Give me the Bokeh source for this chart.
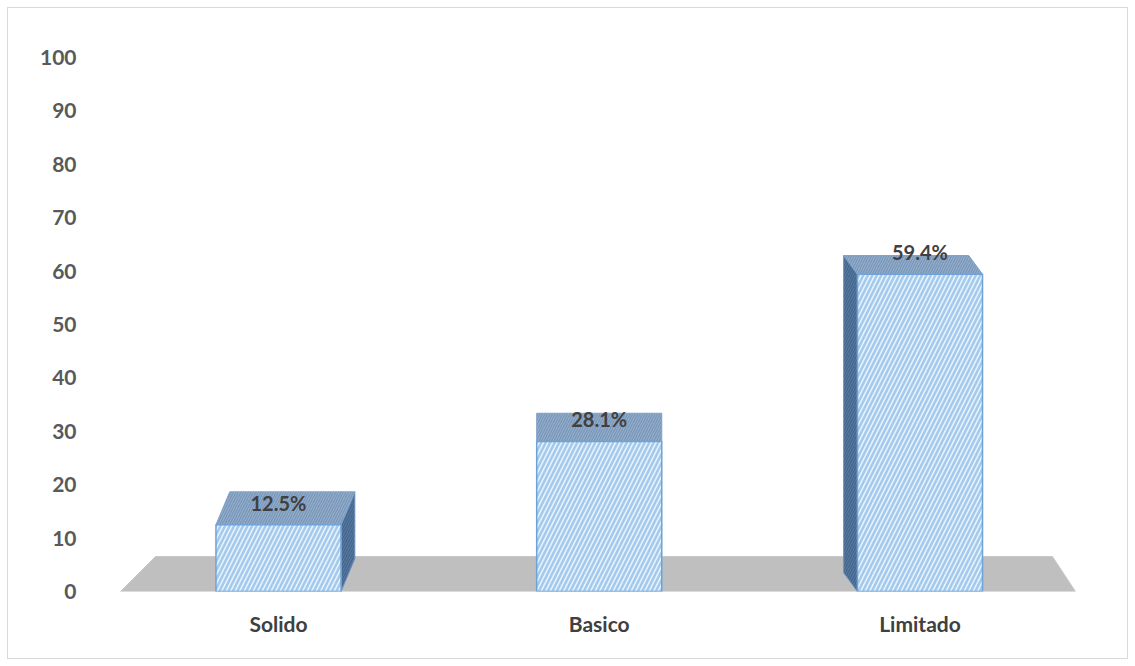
from bokeh.plotting import figure
from bokeh.layouts import column
from bokeh.models import Range1d, FixedTicker, ColumnDataSource
from bokeh.core.properties import value
from bokeh.embed import file_html
from bokeh.resources import INLINE

# ---- data ----
categories = ["Solido", "Basico", "Limitado"]
values = [12.5, 28.1, 59.4]
value_labels = ["12.5%", "28.1%", "59.4%"]
y_ticks = [0, 10, 20, 30, 40, 50, 60, 70, 80, 90, 100]

FONT = "Lato"
xs = list(range(len(categories)))
hw = 0.195  # half bar width (x units)

# figure sits inside a bordered box starting at page pixel (8, 8)
p = figure(width=1119, height=650, output_backend="svg", toolbar_location=None,
           x_range=Range1d(-0.6017, 2.594), y_range=Range1d(0, 100),
           min_border_left=77, min_border_right=17, min_border_top=49,
           min_border_bottom=67)
p.outline_line_color = None
p.xgrid.visible = False
p.ygrid.visible = False
p.background_fill_color = "white"
p.border_fill_color = "white"

# floor
p.patch(x=[-0.4926, 2.4848, 2.4131, -0.3835], y=[0, 0, 6.55, 6.55],
        fill_color="#bfbfbf", line_color="#c8c8c8", line_width=1)

# 3D pieces computed from data
top_xs, top_ys, side_xs, side_ys = [], [], [], []
for x, v in zip(xs, values):
    dx = -0.043 * (x - 1)
    dy = 6.87 - 0.0565 * v
    top_xs.append([x - hw, x + hw, x + hw + dx, x - hw + dx])
    top_ys.append([v, v, v + dy, v + dy])
    if dx != 0:
        ex = x + hw if dx > 0 else x - hw
        side_xs.append([ex, ex, ex + dx, ex + dx])
        side_ys.append([0, v, v + dy, dy])

p.patches(xs=side_xs, ys=side_ys, fill_color="#56789f", line_color="#6f93bd",
          line_width=1, hatch_pattern="/", hatch_color="#3e6088",
          hatch_scale=5, hatch_weight=1)
p.patches(xs=top_xs, ys=top_ys, fill_color="#93adca", line_color="#7fa3cc",
          line_width=1, hatch_pattern="/", hatch_color="#7896b9",
          hatch_scale=5, hatch_weight=1.2)

src = ColumnDataSource(dict(x=xs, top=values, lab=value_labels))
p.vbar(x="x", top="top", bottom=0, width=2 * hw, source=src,
       fill_color="#e6f2fc", line_color="#6fa2d6", line_width=1.5,
       hatch_pattern="/", hatch_color="#a3c9ec", hatch_scale=9, hatch_weight=2.5)

p.text(x="x", y="top", text="lab", source=src, y_offset=-22,
       text_align="center", text_baseline="middle",
       text_font=value(FONT), text_font_style="bold", text_font_size="20px",
       text_color="#404040")

# axes
p.yaxis.ticker = FixedTicker(ticks=y_ticks)
p.yaxis.axis_line_color = None
p.yaxis.major_tick_line_color = None
p.yaxis.minor_tick_line_color = None
p.yaxis.major_tick_out = 0
p.yaxis.major_label_standoff = 9
p.yaxis.major_label_text_font = FONT
p.yaxis.major_label_text_font_style = "bold"
p.yaxis.major_label_text_font_size = "21px"
p.yaxis.major_label_text_color = "#595959"

p.xaxis.ticker = FixedTicker(ticks=xs)
p.xaxis.major_label_overrides = {i: c for i, c in zip(xs, categories)}
p.xaxis.axis_line_color = None
p.xaxis.major_tick_line_color = None
p.xaxis.minor_tick_line_color = None
p.xaxis.major_tick_out = 0
p.xaxis.major_label_standoff = 19
p.xaxis.major_label_text_font = FONT
p.xaxis.major_label_text_font_style = "bold"
p.xaxis.major_label_text_font_size = "21px"
p.xaxis.major_label_text_color = "#404040"

layout = column(p, width=1121, height=652, margin=(7, 7, 7, 7),
                styles={"border": "1px solid #d9d9d9", "box-sizing": "border-box",
                        "background-color": "white"})

open("out.html", "w").write(file_html(layout, INLINE))
